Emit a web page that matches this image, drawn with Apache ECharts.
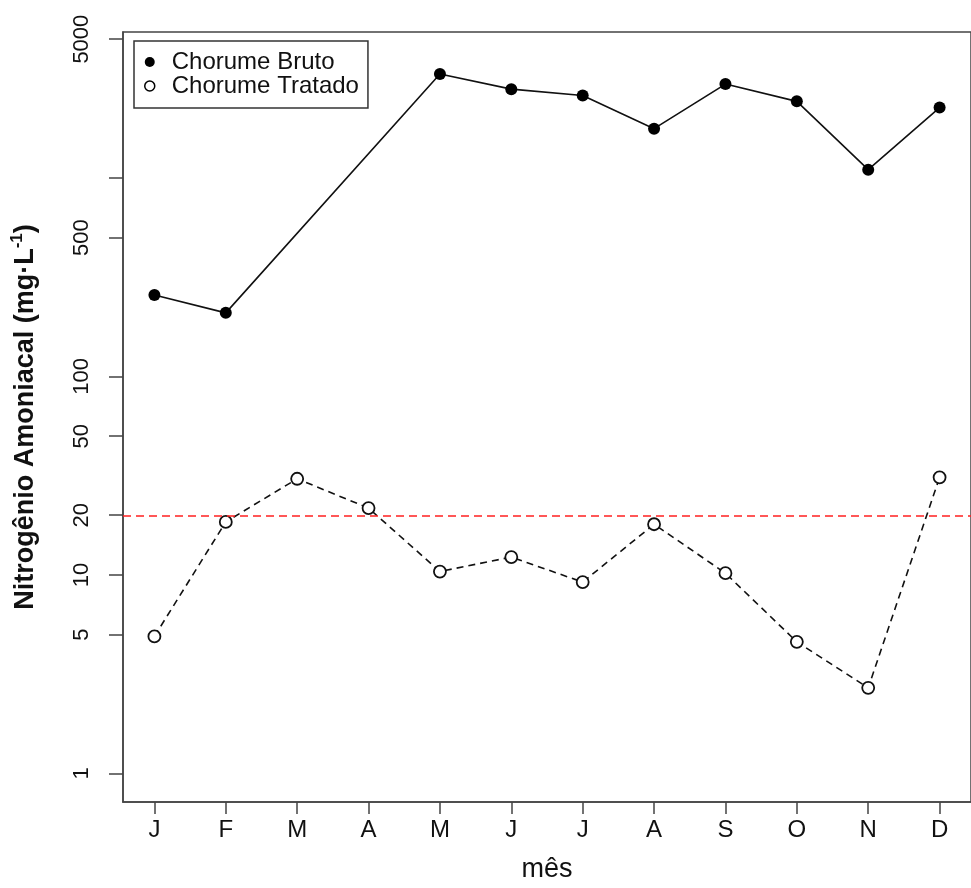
<!DOCTYPE html>
<html><head><meta charset="utf-8">
<script src="https://cdn.jsdelivr.net/npm/echarts@6/dist/echarts.min.js"></script>
<style>html,body{margin:0;padding:0;background:#fff}#c{width:971px;height:888px}</style>
</head><body><div id="c"></div>
<script>
const months = ['J','F','M','A','M','J','J','A','S','O','N','D'];
const bruto = [257, 209, null, null, 3340, 2800, 2600, 1770, 2970, 2430, 1100, 2260];
const tratado = [4.9, 18.5, 30.5, 21.7, 10.4, 12.3, 9.2, 18.0, 10.2, 4.6, 2.7, 31];
const yTickValues = [1, 5, 10, 20, 50, 100, 500, 1000, 5000];
const yLabelValues = [1, 5, 10, 20, 50, 100, 500, 5000];
const limite = 20;
const seriesNames = ['Chorume Bruto', 'Chorume Tratado'];

const L = Math.log10;
function pts(arr) {
  const out = [];
  arr.forEach((v, i) => { if (v != null) out.push([i + 1, L(v)]); });
  return out;
}
const FONT = 'Liberation Sans';
const chart = echarts.init(document.getElementById('c'), null, {renderer: 'canvas'});
chart.setOption({
  animation: false,
  backgroundColor: '#fff',
  grid: {left: 123, top: 32, bottom: 80, right: -10.8, show: true, borderColor: '#444', borderWidth: 1.5, backgroundColor: 'transparent'},
  legend: {
    left: 134, top: 41, orient: 'vertical', itemGap: 0, itemWidth: 10, itemHeight: 10,
    borderColor: '#333', borderWidth: 1.5, borderRadius: 0, padding: [9, 9, 10, 10],
    textStyle: {fontSize: 24, color: '#111', fontFamily: FONT, padding: [0, 0, 0, 12], lineHeight: 21},
    data: [
      {name: seriesNames[0], icon: 'circle', itemStyle: {color: '#000', borderWidth: 0}},
      {name: seriesNames[1], icon: 'circle', itemStyle: {color: '#fff', borderColor: '#000', borderWidth: 1.5}}
    ]
  },
  xAxis: {
    type: 'value', min: 0.56, max: 12.44,
    name: 'mês', nameLocation: 'middle', nameGap: 54,
    nameTextStyle: {fontSize: 27, color: '#111', fontFamily: FONT},
    axisLine: {show: true, onZero: false, lineStyle: {color: '#444', width: 1.5}},
    axisTick: {show: true, length: 12, lineStyle: {color: '#444', width: 1.5}, customValues: months.map((m, i) => i + 1)},
    axisLabel: {show: true, margin: 16, fontSize: 24, color: '#111', fontFamily: FONT,
      customValues: months.map((m, i) => i + 1), formatter: v => months[Math.round(v) - 1]},
    splitLine: {show: false}
  },
  yAxis: {
    type: 'value', min: -0.144, max: 3.735,
    name: '{a|Nitrogênio Amoniacal (mg·L}{s|-1}{a|)}', nameLocation: 'middle', nameGap: 84, nameRotate: 90,
    nameTextStyle: {fontSize: 27, fontWeight: 'bold', color: '#111', fontFamily: FONT,
      rich: {a: {fontSize: 27, fontWeight: 'bold', fontFamily: FONT, color: '#111', lineHeight: 30, verticalAlign: 'bottom'},
             s: {fontSize: 17, fontWeight: 'bold', fontFamily: FONT, color: '#111', lineHeight: 30, verticalAlign: 'top', padding: [0, 0, 0, 0]}}},
    axisLine: {show: true, onZero: false, lineStyle: {color: '#444', width: 1.5}},
    axisTick: {show: true, length: 14, lineStyle: {color: '#444', width: 1.5}, customValues: yTickValues.map(L)},
    axisLabel: {show: true, margin: 30, rotate: 90, fontSize: 22, color: '#111', fontFamily: FONT,
      customValues: yLabelValues.map(L), formatter: v => String(Math.round(Math.pow(10, v)))},
    splitLine: {show: false}
  },
  series: [
    {
      name: seriesNames[0], type: 'line', data: pts(bruto),
      symbol: 'circle', symbolSize: 12,
      lineStyle: {color: '#111', width: 1.6},
      itemStyle: {color: '#000', borderWidth: 0}
    },
    {
      name: seriesNames[1], type: 'line', data: pts(tratado),
      symbol: 'circle', symbolSize: 12,
      lineStyle: {color: '#111', width: 1.6, type: [7, 5]},
      itemStyle: {color: '#fff', borderColor: '#111', borderWidth: 1.8},
      markLine: {
        silent: true, symbol: 'none', label: {show: false},
        lineStyle: {color: '#ff2020', width: 1.6, type: [8, 5]},
        data: [{yAxis: L(limite)}]
      }
    }
  ]
});
</script></body></html>
